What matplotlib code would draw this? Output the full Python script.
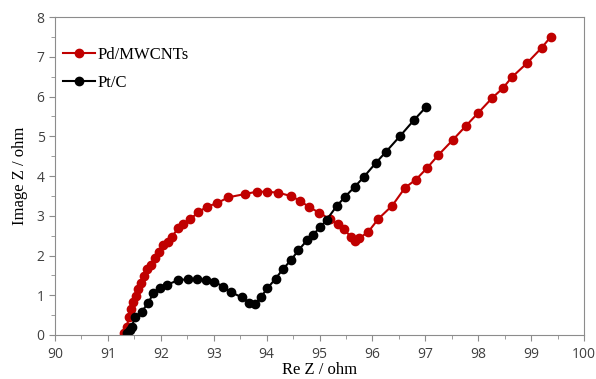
import numpy as np
import matplotlib
matplotlib.use("Agg")
from matplotlib import pyplot as plt
from matplotlib.ticker import MultipleLocator

# Pd/MWCNTs (red)
re_pd = [91.31, 91.355, 91.40, 91.437, 91.48, 91.531, 91.575, 91.626, 91.682, 91.733,
         91.809, 91.89, 91.972, 92.047, 92.142, 92.206, 92.331, 92.425, 92.552, 92.709,
         92.868, 93.057, 93.276, 93.592, 93.813, 94.002, 94.221, 94.456, 94.631, 94.807,
         94.996, 95.198, 95.355, 95.463, 95.59, 95.671, 95.752, 95.923, 96.112, 96.376,
         96.616, 96.824, 97.027, 97.246, 97.518, 97.764, 97.991, 98.267, 98.463, 98.633,
         98.917, 99.20, 99.371]
im_pd = [0.043, 0.209, 0.46, 0.654, 0.838, 0.981, 1.157, 1.316, 1.484, 1.66,
         1.761, 1.945, 2.096, 2.264, 2.347, 2.473, 2.684, 2.785, 2.911, 3.087,
         3.228, 3.313, 3.464, 3.547, 3.605, 3.605, 3.58, 3.497, 3.379, 3.213,
         3.077, 2.911, 2.792, 2.659, 2.473, 2.365, 2.433, 2.599, 2.923, 3.258,
         3.706, 3.912, 4.194, 4.528, 4.906, 5.258, 5.577, 5.97, 6.206, 6.483,
         6.835, 7.228, 7.504]

# Pt/C (black)
re_pt = [91.367, 91.408, 91.45, 91.512, 91.639, 91.764, 91.858, 91.985, 92.112, 92.331,
         92.52, 92.679, 92.854, 93.006, 93.176, 93.321, 93.529, 93.673, 93.781, 93.894,
         94.013, 94.168, 94.304, 94.467, 94.599, 94.764, 94.877, 95.015, 95.136, 95.321,
         95.482, 95.671, 95.841, 96.068, 96.257, 96.522, 96.786, 97.008]
im_pt = [0.058, 0.126, 0.209, 0.445, 0.586, 0.813, 1.049, 1.175, 1.258, 1.384,
         1.401, 1.401, 1.384, 1.341, 1.22, 1.082, 0.948, 0.805, 0.78, 0.956,
         1.175, 1.414, 1.653, 1.894, 2.131, 2.382, 2.523, 2.717, 2.901, 3.238,
         3.479, 3.736, 3.982, 4.335, 4.611, 5.006, 5.409, 5.728]

fig = plt.figure(figsize=(5.96, 3.79), dpi=100)
ax = fig.add_axes([0.0923, 0.1161, 0.8877, 0.839])

ax.plot(re_pd, im_pd, color="#C00000", marker="o", markersize=6, linewidth=1.5,
        label="Pd/MWCNTs")
ax.plot(re_pt, im_pt, color="black", marker="o", markersize=6, linewidth=1.5,
        label="Pt/C")

ax.set_xlim(90, 100)
ax.set_ylim(0, 8)
ax.xaxis.set_major_locator(MultipleLocator(1))
ax.xaxis.set_minor_locator(MultipleLocator(0.5))
ax.yaxis.set_major_locator(MultipleLocator(1))
ax.yaxis.set_minor_locator(MultipleLocator(0.5))

for s in ax.spines.values():
    s.set_color("#8c8c8c")
ax.tick_params(which="both", direction="out", color="#8c8c8c", labelcolor="#404040",
               labelsize=10)
ax.tick_params(which="major", length=4)
ax.tick_params(which="minor", length=3)
ax.tick_params(axis="x", pad=5)
for lab in ax.get_xticklabels() + ax.get_yticklabels():
    lab.set_family("Open Sans")

ax.set_xlabel("Re Z / ohm", family="Liberation Serif", fontsize=12, labelpad=0)
ax.set_ylabel("Image Z / ohm", family="Liberation Serif", fontsize=12, labelpad=6)

ax.legend(loc="upper left", bbox_to_anchor=(0.015, 0.906), frameon=False,
          prop={"family": "Liberation Serif", "size": 12}, handlelength=1.9,
          handletextpad=0.15, labelspacing=0.72, borderaxespad=0, borderpad=0)

fig.savefig("out.png", dpi=100)
